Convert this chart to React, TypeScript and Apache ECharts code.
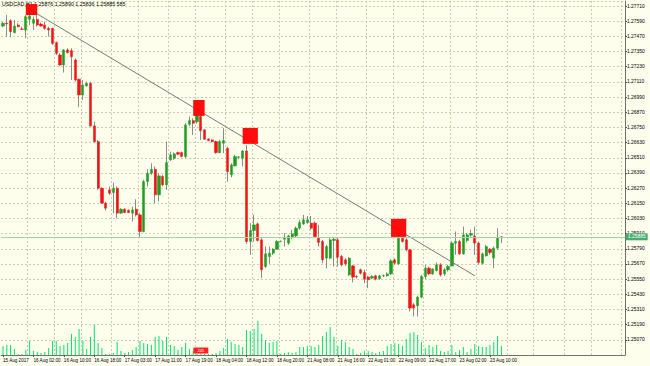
import { useEffect, useRef } from 'react';
import * as echarts from 'echarts';

const chartTitle = 'USDCAD,H1 1.25876 1.25890 1.25836 1.25885 585';

const dateLabels = [
  '15 Aug 2017', '16 Aug 02:00', '16 Aug 10:00', '16 Aug 18:00', '17 Aug 03:00',
  '17 Aug 11:00', '17 Aug 19:00', '18 Aug 04:00', '18 Aug 12:00', '18 Aug 20:00',
  '21 Aug 08:00', '21 Aug 16:00', '22 Aug 01:00', '22 Aug 09:00', '22 Aug 17:00',
  '23 Aug 02:00', '23 Aug 10:00',
];
const barsPerLabel = 8;
const slotCount = 164; // bars + empty chart shift on the right

// [open, close, low, high]
const ohlc: number[][] = [
  [1.27552, 1.27574, 1.27542, 1.27584], [1.27574, 1.27568, 1.27468, 1.27639], [1.27595, 1.27508, 1.27463, 1.27605],
  [1.27500, 1.27552, 1.27494, 1.27600], [1.27560, 1.27547, 1.27542, 1.27574], [1.27529, 1.27526, 1.27521, 1.27547],
  [1.27521, 1.27626, 1.27455, 1.27639], [1.27605, 1.27632, 1.27560, 1.27679], [1.27574, 1.27605, 1.27521, 1.27626],
  [1.27605, 1.27560, 1.27547, 1.27653], [1.27568, 1.27552, 1.27547, 1.27579], [1.27560, 1.27534, 1.27521, 1.27587],
  [1.27534, 1.27521, 1.27468, 1.27547], [1.27534, 1.27415, 1.27402, 1.27539], [1.27421, 1.27336, 1.27323, 1.27429],
  [1.27323, 1.27244, 1.27236, 1.27336], [1.27244, 1.27363, 1.27184, 1.27368], [1.27363, 1.27342, 1.27336, 1.27376],
  [1.27357, 1.27310, 1.27126, 1.27376], [1.27284, 1.27126, 1.27112, 1.27297], [1.27131, 1.27007, 1.26910, 1.27136],
  [1.27007, 1.27086, 1.26967, 1.27126], [1.27078, 1.27099, 1.27073, 1.27112], [1.27099, 1.26762, 1.26757, 1.27112],
  [1.26762, 1.26638, 1.26630, 1.26796], [1.26638, 1.26269, 1.26256, 1.26651], [1.26269, 1.26151, 1.26145, 1.26277],
  [1.26151, 1.26111, 1.26093, 1.26161], [1.26256, 1.26230, 1.26217, 1.26283], [1.26235, 1.26269, 1.26072, 1.26314],
  [1.26269, 1.26072, 1.26032, 1.26283], [1.26072, 1.26103, 1.26066, 1.26111], [1.26103, 1.26077, 1.26072, 1.26111],
  [1.26093, 1.26077, 1.26072, 1.26103], [1.26072, 1.26098, 1.26006, 1.26124], [1.26103, 1.26058, 1.26045, 1.26182],
  [1.26058, 1.25927, 1.25874, 1.26072], [1.25927, 1.26322, 1.25921, 1.26335], [1.26322, 1.26388, 1.26283, 1.26419],
  [1.26388, 1.26419, 1.26375, 1.26467], [1.26419, 1.26217, 1.26151, 1.26441], [1.26217, 1.26367, 1.26164, 1.26388],
  [1.26362, 1.26296, 1.26283, 1.26375], [1.26296, 1.26472, 1.26256, 1.26638], [1.26493, 1.26533, 1.26485, 1.26559],
  [1.26506, 1.26541, 1.26493, 1.26551], [1.26551, 1.26538, 1.26530, 1.26559], [1.26551, 1.26520, 1.26514, 1.26559],
  [1.26520, 1.26770, 1.26506, 1.26783], [1.26775, 1.26804, 1.26762, 1.26836], [1.26804, 1.26783, 1.26691, 1.26823],
  [1.26796, 1.26841, 1.26778, 1.26902], [1.26836, 1.26725, 1.26651, 1.26849], [1.26731, 1.26657, 1.26651, 1.26736],
  [1.26659, 1.26646, 1.26641, 1.26664], [1.26651, 1.26638, 1.26630, 1.26657], [1.26638, 1.26551, 1.26541, 1.26646],
  [1.26551, 1.26638, 1.26546, 1.26651], [1.26625, 1.26646, 1.26546, 1.26744], [1.26585, 1.26401, 1.26322, 1.26598],
  [1.26375, 1.26454, 1.26356, 1.26467], [1.26446, 1.26520, 1.26441, 1.26533], [1.26514, 1.26517, 1.26499, 1.26525],
  [1.26506, 1.26564, 1.26441, 1.26572], [1.26564, 1.25848, 1.25829, 1.26612], [1.25848, 1.25935, 1.25742, 1.25993],
  [1.25935, 1.25979, 1.25848, 1.26058], [1.25987, 1.25856, 1.25848, 1.25998], [1.25861, 1.25624, 1.25558, 1.25874],
  [1.25650, 1.25750, 1.25637, 1.25808], [1.25729, 1.25755, 1.25671, 1.25808], [1.25755, 1.25787, 1.25742, 1.25795],
  [1.25787, 1.25848, 1.25782, 1.25861], [1.25848, 1.25850, 1.25842, 1.25856], [1.25866, 1.25882, 1.25808, 1.25914],
  [1.25835, 1.25892, 1.25821, 1.25900], [1.25882, 1.25908, 1.25866, 1.25940], [1.25892, 1.25953, 1.25882, 1.25966],
  [1.25953, 1.25998, 1.25940, 1.26019], [1.25987, 1.26019, 1.25979, 1.26058], [1.25998, 1.26019, 1.25987, 1.26050],
  [1.25993, 1.25953, 1.25940, 1.26050], [1.25993, 1.25887, 1.25874, 1.26006], [1.25874, 1.25840, 1.25808, 1.25979],
  [1.25848, 1.25703, 1.25676, 1.25861], [1.25716, 1.25808, 1.25637, 1.25821], [1.25716, 1.25861, 1.25708, 1.25874],
  [1.25856, 1.25866, 1.25650, 1.25882], [1.25861, 1.25724, 1.25650, 1.25882], [1.25729, 1.25663, 1.25650, 1.25742],
  [1.25703, 1.25671, 1.25655, 1.25716], [1.25584, 1.25716, 1.25576, 1.25724], [1.25655, 1.25566, 1.25524, 1.25663],
  [1.25571, 1.25568, 1.25555, 1.25581], [1.25624, 1.25597, 1.25587, 1.25634], [1.25603, 1.25550, 1.25518, 1.25624],
  [1.25566, 1.25545, 1.25479, 1.25576], [1.25558, 1.25571, 1.25550, 1.25581], [1.25576, 1.25550, 1.25540, 1.25584],
  [1.25555, 1.25576, 1.25545, 1.25584], [1.25576, 1.25579, 1.25566, 1.25587], [1.25576, 1.25592, 1.25571, 1.25603],
  [1.25592, 1.25695, 1.25581, 1.25708], [1.25703, 1.25676, 1.25663, 1.25713], [1.25671, 1.25874, 1.25663, 1.25914],
  [1.25874, 1.25848, 1.25840, 1.25892], [1.25861, 1.25782, 1.25769, 1.25874], [1.25782, 1.25321, 1.25294, 1.25787],
  [1.25347, 1.25321, 1.25255, 1.25360], [1.25339, 1.25408, 1.25255, 1.25418], [1.25408, 1.25571, 1.25400, 1.25584],
  [1.25571, 1.25637, 1.25550, 1.25663], [1.25637, 1.25592, 1.25581, 1.25650], [1.25592, 1.25629, 1.25584, 1.25637],
  [1.25618, 1.25663, 1.25610, 1.25682], [1.25663, 1.25584, 1.25571, 1.25676], [1.25592, 1.25624, 1.25576, 1.25637],
  [1.25624, 1.25650, 1.25610, 1.25663], [1.25655, 1.25835, 1.25650, 1.25848], [1.25835, 1.25848, 1.25742, 1.25927],
  [1.25848, 1.25750, 1.25742, 1.25861], [1.25750, 1.25900, 1.25742, 1.25966], [1.25856, 1.25900, 1.25840, 1.25914],
  [1.25898, 1.25911, 1.25887, 1.25940], [1.25892, 1.25835, 1.25742, 1.25966], [1.25835, 1.25682, 1.25663, 1.25848],
  [1.25676, 1.25750, 1.25663, 1.25761], [1.25734, 1.25808, 1.25729, 1.25821], [1.25787, 1.25761, 1.25742, 1.25795],
  [1.25716, 1.25795, 1.25637, 1.25808], [1.25795, 1.25874, 1.25782, 1.25953], [1.25876, 1.25885, 1.25836, 1.25890],
];

const volumes = [
  585, 650, 650, 390, 65, 65, 325, 910, 260, 195, 130, 195, 455, 910, 910, 585, 650, 780, 1365, 1170,
  1690, 910, 390, 1170, 1950, 780, 455, 65, 65, 130, 845, 260, 130, 195, 325, 520, 910, 780, 715, 650,
  1170, 1235, 910, 1170, 650, 585, 325, 520, 780, 390, 260, 65, 65, 65, 65, 65, 130, 260, 455, 1040,
  845, 715, 650, 520, 1625, 1560, 1690, 2210, 1365, 975, 780, 845, 910, 65, 130, 195, 130, 195, 520, 520,
  585, 585, 520, 650, 1235, 1495, 1820, 1170, 585, 975, 845, 520, 390, 65, 130, 260, 260, 195, 130, 195,
  260, 585, 715, 780, 715, 585, 1040, 1430, 1495, 1300, 845, 455, 650, 520, 650, 260, 195, 260, 650, 195,
  325, 520, 195, 390, 715, 585, 520, 520, 650, 845, 1235, 585,
];

const priceMin = 1.2495;
const priceMax = 1.2775;
const priceStep = 0.0012;
const volumeMax = 23010;
const bidPrice = 1.25885;

// trend line anchors: [bar index, price]
const trendLine = [[7, 1.27684], [124, 1.25577]];
// rectangles: [fromBar, topPrice, toBar, bottomPrice]
const boxes = [
  [6, 1.27726, 9, 1.27639],
  [50, 1.26967, 53, 1.26841],
  [63, 1.26746, 67, 1.26620],
  [102, 1.26027, 106, 1.25884],
];
const objectTag = { bar: 52, volume: 290, text: '245' };

const FONT = '"Liberation Sans", Arial, sans-serif';
const gridFirstSlot = 6.56;
const gridSlotStep = 7.43;

export default function App() {
  const ref = useRef<HTMLDivElement>(null);
  useEffect(() => {
    if (!ref.current) return;
    const chart = echarts.init(ref.current, null, { renderer: 'svg' });
    const slots = Array.from({ length: slotCount }, (_, i) => String(i));
    const wickData = ohlc.map(([, , l, h]) => [l, l, l, h]);
    const bodyData = ohlc.map(([o, c]) => [o, c, Math.min(o, c), Math.max(o, c)]);
    const isLabelSlot = (idx: number) => idx % barsPerLabel === 0 && idx / barsPerLabel < dateLabels.length;
    const gridCol = (idx: number) => {
      const m = Math.round((idx - gridFirstSlot) / gridSlotStep);
      return m >= 0 && Math.abs(idx - (gridFirstSlot + m * gridSlotStep)) < 0.5;
    };
    const gridLine = { color: '#C9CFB2', type: [2, 2] as any, width: 1 };

    chart.setOption({
      animation: false,
      backgroundColor: '#FEFEEC',
      textStyle: { fontFamily: FONT },
      title: {
        text: chartTitle,
        left: 2,
        top: 1,
        padding: 0,
        z: 1,
        textStyle: { fontSize: 5.3, fontWeight: 'normal', color: '#000', fontFamily: FONT },
      },
      grid: { left: 0, right: 25, top: 1, height: 354, containLabel: false },
      xAxis: [
        {
          type: 'category',
          data: slots,
          boundaryGap: true,
          axisLine: { show: true, lineStyle: { color: '#707070', width: 1 } },
          axisTick: { show: true, interval: (idx: number) => isLabelSlot(idx), alignWithLabel: true, length: 2, lineStyle: { color: '#555' } },
          axisLabel: {
            interval: (idx: number) => isLabelSlot(idx),
            formatter: (_v: string, idx: number) => (isLabelSlot(idx) ? dateLabels[idx / barsPerLabel] : ''),
            fontSize: 4.6,
            color: '#000',
            align: 'left',
            margin: 3,
            fontFamily: FONT,
          },
          splitLine: { show: true, interval: (idx: number) => gridCol(idx), lineStyle: gridLine },
        },
      ],
      yAxis: [
        {
          type: 'value',
          position: 'right',
          min: priceMin,
          max: priceMax,
          interval: priceStep,
          axisLine: { show: true, lineStyle: { color: '#707070', width: 1 } },
          axisTick: { show: true, length: 2, lineStyle: { color: '#555' } },
          axisLabel: {
            fontSize: 4.9,
            color: '#000',
            margin: 2,
            showMinLabel: false,
            showMaxLabel: false,
            formatter: (v: number) => v.toFixed(5),
            fontFamily: FONT,
          },
          splitLine: { show: true, lineStyle: gridLine },
        },
        { type: 'value', min: 0, max: volumeMax, show: false, splitLine: { show: false } },
      ],
      series: [
        {
          name: 'Volumes',
          type: 'bar',
          xAxisIndex: 0,
          yAxisIndex: 1,
          data: volumes,
          barWidth: 1,
          itemStyle: { color: '#00E070' },
          silent: true,
          z: 1,
          markPoint: {
            symbol: 'rect',
            symbolSize: [15, 6],
            itemStyle: { color: '#FF2020' },
            label: { show: true, position: 'inside', formatter: objectTag.text, color: '#fff', fontSize: 4, fontFamily: FONT },
            data: [{ coord: [objectTag.bar, objectTag.volume] }],
          },
        },
        {
          name: 'wicks',
          type: 'candlestick',
          data: wickData,
          barWidth: 1,
          z: 3,
          silent: true,
          itemStyle: { color: '#8C8C8C', color0: '#8C8C8C', borderColor: '#8C8C8C', borderColor0: '#8C8C8C', borderWidth: 1 },
        },
        {
          name: 'USDCAD',
          type: 'candlestick',
          data: bodyData,
          barWidth: 2.7,
          z: 4,
          silent: true,
          itemStyle: { color: '#1E9E1E', color0: '#F01414', borderColor: '#1E9E1E', borderColor0: '#F01414', borderWidth: 0.5 },
          markLine: {
            silent: true,
            symbol: ['none', 'none'],
            precision: 5,
            z: 5,
            label: { show: false },
            lineStyle: { color: '#7A7A7A', width: 1, type: 'solid' },
            data: [[{ coord: trendLine[0] }, { coord: trendLine[1] }]],
          },
        },
        {
          name: 'objects',
          type: 'line',
          data: [],
          z: 10,
          silent: true,
          markArea: {
            silent: true,
            z: 10,
            itemStyle: { color: '#FF0000', opacity: 0.95 },
            data: boxes.map(([x0, y0, x1, y1]) => [{ coord: [x0, y0] }, { coord: [x1, y1] }]),
          },
          markLine: {
            silent: true,
            z: 11,
            precision: 5,
            symbol: ['none', 'none'],
            lineStyle: { color: '#A6D4A6', width: 1, type: 'solid' },
            label: {
              show: true,
              position: 'end',
              distance: 1,
              formatter: bidPrice.toFixed(5),
              color: '#fff',
              backgroundColor: '#47AD6F',
              padding: [1, 2],
              fontSize: 4.9,
              fontFamily: FONT,
            },
            data: [{ yAxis: bidPrice }],
          },
        },
      ],
    });
    return () => chart.dispose();
  }, []);
  return <div ref={ref} style={{ position: 'fixed', left: 0, top: 0, width: 650, height: 366 }} />;
}
